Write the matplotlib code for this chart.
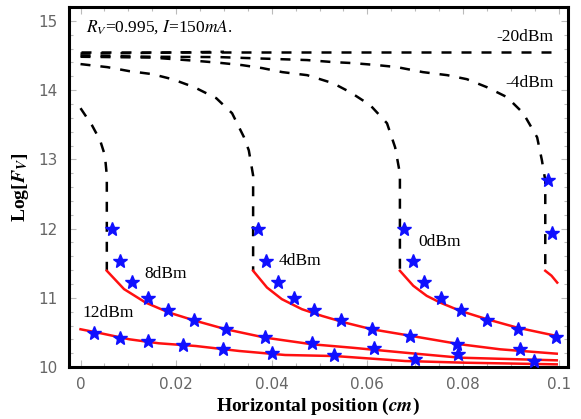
import matplotlib
matplotlib.use("Agg")
import matplotlib.pyplot as plt
from matplotlib.ticker import MultipleLocator

# dashed parts (black)
x_m20 = [0.0, 0.1]
y_m20 = [14.555, 14.555]

x_extra = [0.0, 0.010, 0.020, 0.030]
y_extra = [14.53, 14.535, 14.545, 14.555]

x_m4_dash = [0.0, 0.015, 0.029, 0.0474, 0.0528, 0.057, 0.0621, 0.0662, 0.0716,
             0.0767, 0.0808, 0.085, 0.0892, 0.0926, 0.0955, 0.0965, 0.0972, 0.0972]
y_m4_dash = [14.50, 14.483, 14.478, 14.435, 14.406, 14.391, 14.362, 14.333, 14.261,
             14.217, 14.159, 14.043, 13.899, 13.667, 13.319, 12.986, 12.696, 11.391]

x_0_dash = [0.0, 0.015, 0.024, 0.029, 0.0338, 0.038, 0.0422, 0.0474, 0.0528,
            0.0564, 0.0606, 0.0641, 0.0658, 0.0668, 0.0668]
y_0_dash = [14.483, 14.471, 14.425, 14.396, 14.362, 14.319, 14.261, 14.217, 14.101,
            13.971, 13.783, 13.522, 13.174, 12.797, 11.391]

x_4_dash = [0.0, 0.0056, 0.0102, 0.015, 0.0192, 0.0238, 0.0284, 0.0317, 0.0342,
            0.0352, 0.0361, 0.0361]
y_4_dash = [14.377, 14.333, 14.275, 14.232, 14.159, 14.043, 13.884, 13.667, 13.319,
            13.13, 12.768, 11.391]

x_8_dash = [0.0, 0.0024, 0.0041, 0.0051, 0.0055, 0.0055]
y_8_dash = [13.74, 13.493, 13.275, 13.058, 12.768, 11.391]

# solid parts (red)
x_m4_red = [0.0972, 0.0985, 0.0997]
y_m4_red = [11.391, 11.32, 11.22]

x_0_red = [0.0668, 0.0696, 0.0724, 0.0752, 0.0794, 0.085, 0.0913, 0.0996]
y_0_red = [11.391, 11.174, 11.029, 10.932, 10.812, 10.691, 10.570, 10.449]

x_4_red = [0.0361, 0.039, 0.0421, 0.0463, 0.0505, 0.0553, 0.0609, 0.0672, 0.0794,
           0.0878, 0.0996]
y_4_red = [11.391, 11.149, 10.981, 10.836, 10.739, 10.642, 10.546, 10.473, 10.329,
           10.256, 10.193]

x_8_red = [0.0055, 0.0091, 0.0136, 0.0185, 0.0241, 0.0304, 0.0386, 0.0484, 0.0567,
           0.0679, 0.0794, 0.0996]
y_8_red = [11.391, 11.126, 10.932, 10.787, 10.667, 10.546, 10.425, 10.329, 10.280,
           10.207, 10.135, 10.097]

x_12_red = [0.0, 0.0046, 0.0102, 0.0164, 0.0241, 0.0332, 0.0428, 0.0532, 0.0679,
            0.0808, 0.0996]
y_12_red = [10.546, 10.483, 10.401, 10.343, 10.304, 10.232, 10.174, 10.159, 10.087,
            10.062, 10.039]

# measured points (blue stars)
x_m4_star = [0.0977, 0.0986]
y_m4_star = [12.696, 11.932]

x_0_star = [0.0677, 0.0695, 0.0719, 0.0754, 0.0796, 0.0851, 0.0915, 0.0994]
y_0_star = [11.996, 11.536, 11.232, 11.004, 10.826, 10.677, 10.546, 10.435]

x_4_star = [0.0371, 0.0388, 0.0413, 0.0447, 0.0489, 0.0544, 0.0610, 0.0689, 0.0788, 0.0919]
y_4_star = [11.996, 11.526, 11.232, 10.996, 10.826, 10.681, 10.555, 10.449, 10.338, 10.265]

x_8_star = [0.0065, 0.0082, 0.0107, 0.0141, 0.0184, 0.0237, 0.0304, 0.0385, 0.0484,
            0.0613, 0.0790]
y_8_star = [11.996, 11.526, 11.232, 11.004, 10.822, 10.677, 10.555, 10.435, 10.352,
            10.271, 10.184]

x_12_star = [0.0028, 0.0082, 0.0142, 0.0215, 0.0298, 0.0401, 0.0530, 0.0700, 0.0949]
y_12_star = [10.497, 10.425, 10.377, 10.314, 10.265, 10.207, 10.174, 10.112, 10.087]

labels = ["-20dBm", "-4dBm", "0dBm", "4dBm", "8dBm", "12dBm"]
label_x = [0.0990, 0.0990, 0.0707, 0.0414, 0.0133, 0.0004]
label_y = [14.77, 14.10, 11.80, 11.536, 11.34, 10.787]
label_ha = ["right", "right", "left", "left", "left", "left"]

plt.rcParams["mathtext.fontset"] = "stix"
plt.rcParams["font.family"] = ["Liberation Serif", "DejaVu Serif"]

fig = plt.figure(figsize=(5.81, 4.19), dpi=100)
ax = fig.add_axes([0.118, 0.124, 0.860, 0.859])

dash = (0, (4.0, 4.0))
for xs, ys in [(x_m20, y_m20), (x_extra, y_extra), (x_m4_dash, y_m4_dash),
               (x_0_dash, y_0_dash), (x_4_dash, y_4_dash), (x_8_dash, y_8_dash)]:
    ax.plot(xs, ys, color="black", linewidth=1.8, linestyle=dash, zorder=2)

for xs, ys in [(x_m4_red, y_m4_red), (x_0_red, y_0_red), (x_4_red, y_4_red),
               (x_8_red, y_8_red), (x_12_red, y_12_red)]:
    ax.plot(xs, ys, color="#ff1010", linewidth=1.8, zorder=3)

for xs, ys in [(x_m4_star, y_m4_star), (x_0_star, y_0_star), (x_4_star, y_4_star),
               (x_8_star, y_8_star), (x_12_star, y_12_star)]:
    ax.plot(xs, ys, linestyle="none", marker="*", markersize=10,
            color="#1010ff", zorder=4)

for text, tx, ty, ha in zip(labels, label_x, label_y, label_ha):
    ax.text(tx, ty, text, ha=ha, va="center", fontsize=12.5, color="black")

ax.text(0.0012, 14.91, r"$R_V$=0.995, $I$=150$mA$.", ha="left", va="center",
        fontsize=12.5)

ax.set_xlim(-0.0025, 0.102)
ax.set_ylim(10.0, 15.2)

ax.xaxis.set_major_locator(MultipleLocator(0.02))
ax.xaxis.set_minor_locator(MultipleLocator(0.005))
ax.yaxis.set_major_locator(MultipleLocator(1))
ax.yaxis.set_minor_locator(MultipleLocator(0.2))
ax.set_xticks([0, 0.02, 0.04, 0.06, 0.08, 0.1])
ax.set_xticklabels(["0", "0.02", "0.04", "0.06", "0.08", "0.1"])

ax.tick_params(which="both", direction="in", top=True, right=True,
               color="#bbbbbb", width=0.8)
ax.tick_params(which="major", length=5)
ax.tick_params(which="minor", length=3)
ax.tick_params(axis="x", which="major", pad=7)
ax.tick_params(axis="y", which="major", pad=8)
for lab in ax.get_xticklabels() + ax.get_yticklabels():
    lab.set_family("DejaVu Sans")
    lab.set_fontsize(11)
    lab.set_color("#666666")

for side in ["top", "bottom", "left", "right"]:
    ax.spines[side].set_linewidth(2.2)

ax.set_xlabel(r"Horizontal position ($\mathbfit{cm}$)", fontsize=14,
              fontweight="bold", labelpad=3)
ax.set_ylabel(r"Log[$\mathbfit{F}_{\mathbfit{V}}$]", fontsize=14,
              fontweight="bold", labelpad=5)

fig.savefig("out.png", dpi=100)
